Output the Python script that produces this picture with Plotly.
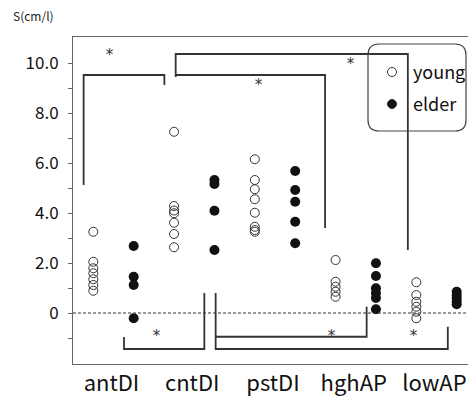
import plotly.graph_objects as go

# ---- data ----
categories = ["antDI", "cntDI", "pstDI", "hghAP", "lowAP"]
young = [
    [3.25, 2.05, 1.79, 1.59, 1.35, 1.12, 0.89],
    [7.25, 4.28, 4.10, 3.99, 3.61, 3.16, 2.63],
    [6.15, 5.32, 4.95, 4.55, 4.01, 3.45, 3.32, 3.25],
    [2.12, 1.25, 1.05, 0.85, 0.65],
    [1.23, 0.72, 0.45, 0.25, 0.05, -0.21],
]
elder = [
    [2.68, 1.45, 1.12, -0.21],
    [5.32, 5.16, 4.09, 2.52],
    [5.68, 4.92, 4.45, 3.65, 2.79],
    [1.99, 1.48, 0.99, 0.80, 0.60, 0.15],
    [0.85, 0.72, 0.59, 0.45, 0.35],
]
ytick_vals = [0, 2, 4, 6, 8, 10]
ytick_text = ["0", "2.0", "4.0", "6.0", "8.0", "10.0"]

# significance brackets (x in column units, y in S units) and star positions
brackets = [
    ([-0.24, -0.24, 1.76, 1.76], [5.12, 9.52, 9.52, 9.12]),
    ([2.04, 2.04, 7.79, 7.79], [9.44, 10.36, 10.36, 2.52]),
    ([2.04, 5.74, 5.74], [9.52, 9.52, 3.40]),
    ([0.76, 0.76, 2.75, 2.75], [-0.96, -1.44, -1.44, 0.80]),
    ([3.03, 3.03, 8.78, 8.78], [0.80, -1.44, -1.44, -0.55]),
    ([3.03, 6.77, 6.77], [-0.95, -0.95, 0.25]),
]
stars_x = [0.39, 4.08, 6.36, 1.57, 5.90, 7.92]
stars_y = [10.44, 9.25, 10.09, -0.80, -0.80, -0.80]

FONT = "Noto Sans CJK JP"
LINE = "#333333"

fig = go.Figure()

for i, cat in enumerate(categories):
    fig.add_trace(go.Scatter(
        x=[2 * i] * len(young[i]), y=young[i], mode="markers", name="young",
        showlegend=False,
        marker=dict(symbol="circle-open", size=9, color="#333333", line=dict(width=1)),
    ))
    fig.add_trace(go.Scatter(
        x=[2 * i + 1] * len(elder[i]), y=elder[i], mode="markers", name="elder",
        showlegend=False,
        marker=dict(symbol="circle", size=10, color="#111111"),
    ))

for bx, by in brackets:
    fig.add_trace(go.Scatter(x=bx, y=by, mode="lines", showlegend=False, hoverinfo="skip",
                             line=dict(color=LINE, width=1.8)))

for sx, sy in zip(stars_x, stars_y):
    fig.add_annotation(x=sx, y=sy, text="*", showarrow=False, xref="x", yref="y",
                       font=dict(family="DejaVu Sans Mono", size=15, color="#333"), yshift=-3)

# dashed zero line
fig.add_shape(type="line", xref="paper", yref="y", x0=0, x1=1, y0=0, y1=0,
              line=dict(color="#333", width=1, dash="3px,2px"))

# legend box (manual)
W, H = 468, 399
L, T, R, B = 73, 37, 468, 364
pw, ph = R - L, B - T
def px(x):
    return (x - L) / pw
def py(y):
    return (B - y) / ph
x0, x1, y0, y1, r = 368, 466, 44, 131, 11
rx, ry = r / pw, r / ph
path = (f"M {px(x0)+rx} {py(y0)} L {px(x1)-rx} {py(y0)} Q {px(x1)} {py(y0)} {px(x1)} {py(y0)-ry} "
        f"L {px(x1)} {py(y1)+ry} Q {px(x1)} {py(y1)} {px(x1)-rx} {py(y1)} "
        f"L {px(x0)+rx} {py(y1)} Q {px(x0)} {py(y1)} {px(x0)} {py(y1)+ry} "
        f"L {px(x0)} {py(y0)-ry} Q {px(x0)} {py(y0)} {px(x0)+rx} {py(y0)} Z")
fig.add_shape(type="path", xref="paper", yref="paper", path=path,
              line=dict(color="#444", width=1.2))
for cy, filled in [(72, False), (104, True)]:
    fig.add_shape(type="circle", xref="paper", yref="paper", xsizemode="pixel", ysizemode="pixel",
                  xanchor=px(392), yanchor=py(cy), x0=-4.5, x1=4.5, y0=-4.5, y1=4.5,
                  line=dict(color="#333", width=1),
                  fillcolor="#111" if filled else "rgba(0,0,0,0)")
for cy, txt in [(71, "young"), (103, "elder")]:
    fig.add_annotation(x=px(411), y=py(cy), xref="paper", yref="paper", text=txt,
                       showarrow=False, xanchor="left", yanchor="middle",
                       font=dict(family=FONT, size=18, color="#111"))

# axis title
fig.add_annotation(x=px(11), y=py(16), xref="paper", yref="paper", text="S(cm/l)",
                   showarrow=False, xanchor="left", yanchor="middle",
                   font=dict(family=FONT, size=12, color="#222"))

fig.update_layout(
    width=W, height=H, margin=dict(l=L, r=W - R, t=T, b=H - B),
    paper_bgcolor="white", plot_bgcolor="white",
    font=dict(family=FONT, color="#111"),
    showlegend=False,
    xaxis=dict(range=[-0.503, 9.28], showgrid=False, zeroline=False,
               showline=True, linecolor="#666", linewidth=1, mirror=True,
               tickvals=[0.45, 2.45, 4.45, 6.45, 8.45], ticktext=categories, ticks="",
               tickfont=dict(family=FONT, size=22, color="#111")),
    yaxis=dict(range=[-2.04, 11.04], showgrid=False, zeroline=False,
               showline=True, linecolor="#666", linewidth=1,
               tickvals=ytick_vals, ticktext=ytick_text, ticks="outside", ticklen=4,
               tickcolor="#666", ticklabelstandoff=6,
               minor=dict(tickvals=[-1, 1, 3, 5, 7, 9], ticks="outside", ticklen=4, tickcolor="#666"),
               tickfont=dict(family=FONT, size=17, color="#111")),
)

fig.write_html("out.html")
